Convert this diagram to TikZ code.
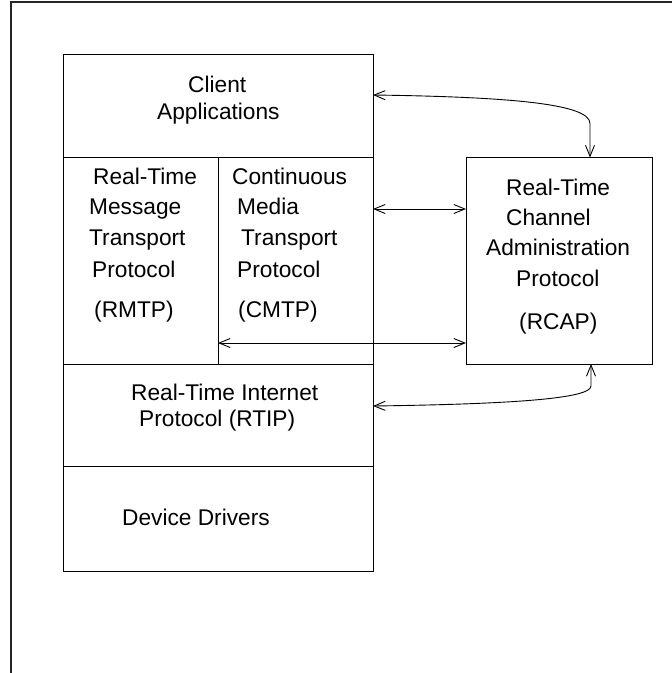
\documentclass[tikz,border=0pt]{standalone}
\usepackage{fontspec}
\setmainfont{Liberation Sans}
\usetikzlibrary{arrows.meta,calc}
\begin{document}
\begin{tikzpicture}[x=1pt,y=-1pt,
  layer/.style={draw, line width=1pt, inner sep=0pt, outer sep=0pt, anchor=north west},
  lbl/.style={anchor=base west, inner sep=0pt, font=\fontsize{22.7}{27}\selectfont},
  link/.style={line width=0.9pt, {Straight Barb[length=11pt,width=9pt]}-{Straight Barb[length=11pt,width=9pt]}},
  frameline/.style={line width=1.2pt, black!85}]
\useasboundingbox (0,0) rectangle (672,673);
% outer frame (left and top only)
\draw[frameline] (11,673) -- (11,2) -- (672,2);

% protocol stack
\node[layer, minimum width=310pt, minimum height=103pt] (client) at (63,54) {};
\node[layer, minimum width=155pt, minimum height=207pt] (rmtp) at (63,157) {};
\node[layer, minimum width=155pt, minimum height=207pt] (cmtp) at (218,157) {};
\node[layer, minimum width=310pt, minimum height=102pt] (rtip) at (63,364) {};
\node[layer, minimum width=310pt, minimum height=105pt] (dev) at (63,466) {};
% channel administration box
\node[layer, minimum width=186pt, minimum height=206.5pt] (rcap) at (466,157.5) {};

% labels
\node[lbl] (t1) at (188,92) {Client};
\node[lbl] (t2) at (157,119) {Applications};

\node[lbl] (t3) at (93,184) {Real-Time};
\node[lbl] (t4) at (89,214) {Message};
\node[lbl] (t5) at (89,245) {Transport};
\node[lbl] (t6) at (92,277) {Protocol};
\node[lbl] (t7) at (94,317) {(RMTP)};

\node[lbl] (t8) at (232,184) {Continuous};
\node[lbl] (t9) at (237,214) {Media};
\node[lbl] (t10) at (241,245) {Transport};
\node[lbl] (t11) at (237,277) {Protocol};
\node[lbl] (t12) at (238,317) {(CMTP)};

\node[lbl] (t13) at (506,195) {Real-Time};
\node[lbl] (t14) at (506,225) {Channel};
\node[lbl] (t15) at (486,255) {Administration};
\node[lbl] (t16) at (516,286) {Protocol};
\node[lbl] (t17) at (519,329) {(RCAP)};

\node[lbl] (t18) at (131,400) {Real-Time Internet};
\node[lbl] (t19) at (139,426) {Protocol (RTIP)};

\node[lbl] (t20) at (122,525) {Device Drivers};

% connectors
\draw[link] ($(client.north east)+(0,41)$) .. controls +(147,2) and +(0,-18.5) ..
  ($(rcap.north west)+(124,-34)$) -- ($(rcap.north west)+(124,0)$);

\coordinate (m1) at ($(cmtp.north east)+(0,52)$);
\draw[link] (m1) -- (m1 -| rcap.west);

\coordinate (m2) at ($(cmtp.south west)+(0,-21)$);
\draw[link] (m2) -- (m2 -| rcap.west);

\draw[link] ($(rtip.north east)+(0,42)$) .. controls +(147,-2) and +(0,12) ..
  ($(rcap.south west)+(125,22)$) -- ($(rcap.south west)+(125,0)$);
\end{tikzpicture}
\end{document}
